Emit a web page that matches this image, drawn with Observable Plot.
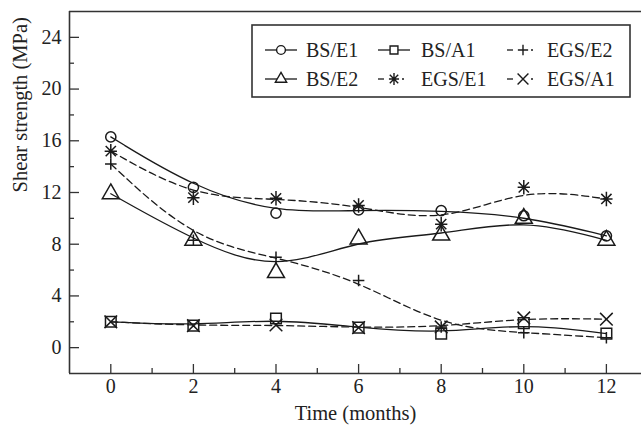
<!DOCTYPE html>
<html>
<head>
<meta charset="utf-8">
<script src="https://cdn.jsdelivr.net/npm/d3@7"></script>
<script src="https://cdn.jsdelivr.net/npm/@observablehq/plot@0.6"></script>
<style>
  html, body { margin: 0; padding: 0; background: #fff; }
  #chart svg { display: block; }
</style>
</head>
<body>
<div id="chart"></div>
<script>
// ---- data ----
const months = [0, 2, 4, 6, 8, 10, 12];
const bsE1  = [16.3, 12.4, 10.4, 10.65, 10.6, 10.2, 8.65];
const bsE2  = [11.9, 8.3, 5.8, 8.4, 8.7, 10.0, 8.3];
const bsA1  = [2.0, 1.7, 2.25, 1.55, 1.08, 1.9, 1.08];
const egsE1 = [15.2, 11.6, 11.55, 11.0, 9.55, 12.4, 11.5];
const egsE2 = [14.2, 8.3, 7.0, 5.2, 1.6, 1.16, 0.77];
const egsA1 = [2.0, 1.7, 1.75, 1.55, 1.6, 2.3, 2.2];
const seriesNames = ["BS/E1", "BS/A1", "EGS/E2", "BS/E2", "EGS/E1", "EGS/A1"];
const xMajor = [0, 2, 4, 6, 8, 10, 12];
const xMinor = [1, 3, 5, 7, 9, 11];
const yMajor = [0, 4, 8, 12, 16, 20, 24];
const yMinor = [2, 6, 10, 14, 18, 22];
const xTitle = "Time (months)";
const yTitle = "Shear strength (MPa)";

// ---- symbols ----
const asterisk8 = {
  draw(ctx, size) {
    const r = Math.sqrt(size) * 0.6;
    const d = r * Math.SQRT1_2;
    ctx.moveTo(0, -r); ctx.lineTo(0, r);
    ctx.moveTo(-r * 0.85, 0); ctx.lineTo(r * 0.85, 0);
    ctx.moveTo(-d, -d); ctx.lineTo(d, d);
    ctx.moveTo(-d, d); ctx.lineTo(d, -d);
  }
};

const series = [
  {name: "BS/E1",  vals: bsE1,  dash: null,  symbol: "circle",   r: 5.1, lr: 4.4},
  {name: "BS/A1",  vals: bsA1,  dash: null,  symbol: "square",   r: 6.0, lr: 5.0},
  {name: "EGS/E2", vals: egsE2, dash: "7,4", symbol: "plus",     r: 3.8, lr: 3.4},
  {name: "BS/E2",  vals: bsE2,  dash: null,  symbol: "triangle", r: 6.3, lr: 5.4},
  {name: "EGS/E1", vals: egsE1, dash: "7,4", symbol: asterisk8,  r: 6.8, lr: 5.6},
  {name: "EGS/A1", vals: egsA1, dash: "7,4", symbol: "times",    r: 5.8, lr: 5.0}
];

const toRows = s => months.map((m, i) => ({month: m, value: s.vals[i], name: s.name}));

const W = 643, H = 426;
const mL = 69, mT = 11, mB = 53, mR = 2;
const plotW = W - mL - mR, plotH = H - mT - mB;
const ink = "#1a1a1a";
const font = "'Liberation Serif', 'Times New Roman', serif";

const marks = [];
// frame lines (top, left, bottom)
marks.push(Plot.ruleY([26], {stroke: "#333", strokeWidth: 1.6}));
marks.push(Plot.ruleY([-2], {stroke: "#333", strokeWidth: 1.6}));
marks.push(Plot.ruleX([-1], {stroke: "#333", strokeWidth: 1.6}));
// inward ticks
marks.push(Plot.tickX(xMajor, {x: d => d, insetTop: plotH - 9, stroke: "#333", strokeWidth: 1.3}));
marks.push(Plot.tickX(xMinor, {x: d => d, insetTop: plotH - 5, stroke: "#333", strokeWidth: 1.3}));
marks.push(Plot.tickY(yMajor, {y: d => d, insetRight: plotW - 10, stroke: "#333", strokeWidth: 1.3}));
marks.push(Plot.tickY(yMinor, {y: d => d, insetRight: plotW - 5, stroke: "#333", strokeWidth: 1.3}));
// tick labels
marks.push(Plot.text(xMajor, {x: d => d, text: d => String(d), frameAnchor: "bottom", dy: 19, fontSize: 20, fontFamily: font, fill: "#222"}));
marks.push(Plot.text(yMajor, {y: d => d, text: d => String(d), frameAnchor: "left", dx: -8, textAnchor: "end", fontSize: 20, fontFamily: font, fill: "#222"}));
// axis titles
marks.push(Plot.text([xTitle], {text: d => d, frameAnchor: "bottom", dy: 46, fontSize: 20.5, fontFamily: font, fill: "#222"}));
marks.push(Plot.text([yTitle], {text: d => d, frameAnchor: "left", dx: -49, rotate: -90, fontSize: 20.5, fontFamily: font, fill: "#222"}));

for (const s of series) {
  const rows = toRows(s);
  marks.push(Plot.line(rows, {x: "month", y: "value", curve: "basis", stroke: ink, strokeWidth: 1.3, strokeDasharray: s.dash}));
}
for (const s of series) {
  const rows = toRows(s);
  marks.push(Plot.dot(rows, {x: "month", y: "value", symbol: () => s.symbol, r: s.r, stroke: ink, strokeWidth: 1.5, fill: "none"}));
}

const chart = Plot.plot({
  width: W, height: H,
  marginLeft: mL, marginTop: mT, marginBottom: mB, marginRight: mR,
  x: {domain: [-1, 12.85], axis: null},
  y: {domain: [-2, 26], axis: null},
  symbol: {type: "identity"},
  style: {fontFamily: font, background: "#fff", overflow: "visible"},
  marks
});
document.getElementById("chart").appendChild(chart);

// ---- legend (inside plot, top right) ----
const svg = d3.select(chart);
const lg = svg.append("g").attr("class", "legend");
lg.append("rect").attr("x", 252).attr("y", 25).attr("width", 378).attr("height", 72)
  .attr("fill", "#fff").attr("stroke", "#333").attr("stroke-width", 1.6);
const cols = [{lx: 265, mx: 281, tx: 306}, {lx: 378, mx: 394, tx: 421}, {lx: 507, mx: 523, tx: 547}];
const rowsY = [50, 79];
const symMap = {circle: d3.symbolCircle, square: d3.symbolSquare2, plus: d3.symbolPlus, triangle: d3.symbolTriangle2, times: d3.symbolTimes};
series.forEach((s, i) => {
  const c = cols[i % 3], y = rowsY[Math.floor(i / 3)];
  if (s.dash) {
    lg.append("line").attr("x1", c.lx).attr("x2", c.lx + 6).attr("y1", y).attr("y2", y).attr("stroke", ink).attr("stroke-width", 1.3);
    lg.append("line").attr("x1", c.mx + 8).attr("x2", c.mx + 10).attr("y1", y).attr("y2", y).attr("stroke", ink).attr("stroke-width", 1.3);
  } else {
    lg.append("line").attr("x1", c.lx).attr("x2", c.lx + 32).attr("y1", y).attr("y2", y).attr("stroke", ink).attr("stroke-width", 1.3);
  }
  const type = typeof s.symbol === "string" ? symMap[s.symbol] : s.symbol;
  lg.append("path").attr("transform", `translate(${c.mx},${y})`)
    .attr("d", d3.symbol(type, Math.PI * s.lr * s.lr)())
    .attr("fill", s.symbol === "circle" || s.symbol === "square" || s.symbol === "triangle" ? "#fff" : "none")
    .attr("stroke", ink).attr("stroke-width", 1.4);
  lg.append("text").attr("x", c.tx).attr("y", y).attr("dy", "0.33em")
    .attr("text-anchor", "start")
    .attr("font-family", font).attr("font-size", 20).attr("fill", "#222").text(seriesNames[i]);
});
</script>
</body>
</html>
